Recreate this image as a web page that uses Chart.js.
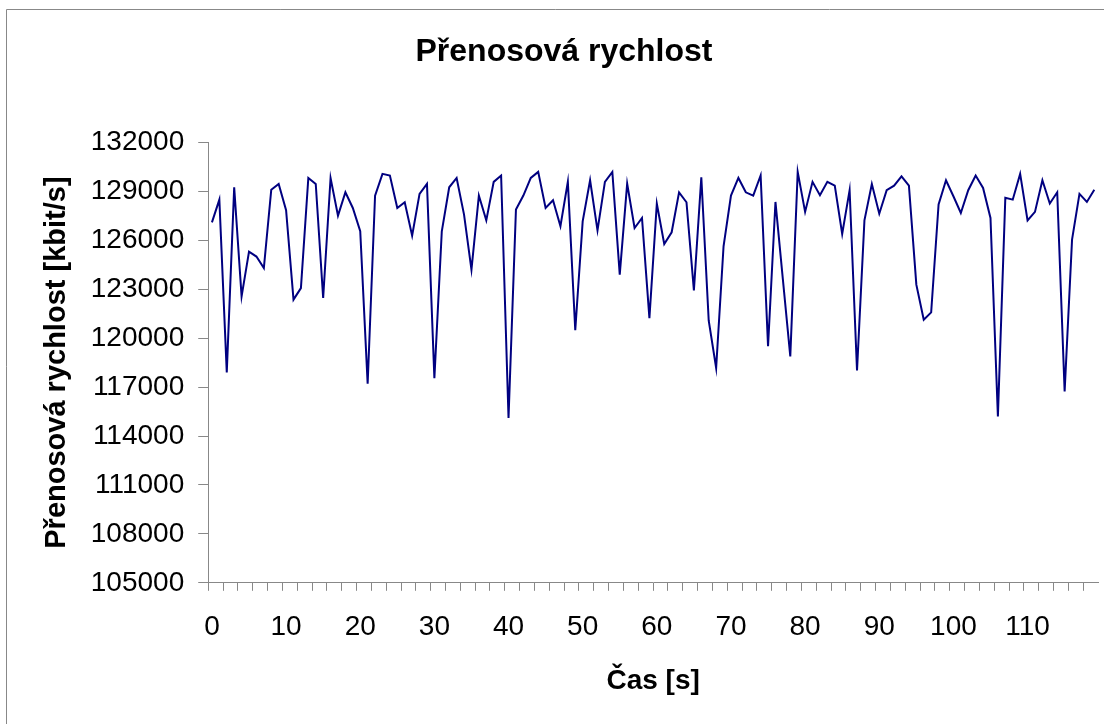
<!DOCTYPE html>
<html>
<head>
<meta charset="utf-8">
<title>Přenosová rychlost</title>
<script src="https://cdn.jsdelivr.net/npm/chart.js@4/dist/chart.umd.min.js"></script>
<style>
  html, body { margin: 0; padding: 0; background: #fff; }
  canvas { display: block; }
</style>
</head>
<body>
<canvas id="myChart" width="1104" height="724"></canvas>
<script>
// cas [s]
const casLabels = [0, 1, 2, 3, 4, 5, 6, 7, 8, 9, 10, 11, 12, 13, 14, 15, 16, 17, 18, 19,
    20, 21, 22, 23, 24, 25, 26, 27, 28, 29, 30, 31, 32, 33, 34, 35, 36, 37, 38, 39,
    40, 41, 42, 43, 44, 45, 46, 47, 48, 49, 50, 51, 52, 53, 54, 55, 56, 57, 58, 59,
    60, 61, 62, 63, 64, 65, 66, 67, 68, 69, 70, 71, 72, 73, 74, 75, 76, 77, 78, 79,
    80, 81, 82, 83, 84, 85, 86, 87, 88, 89, 90, 91, 92, 93, 94, 95, 96, 97, 98, 99,
    100, 101, 102, 103, 104, 105, 106, 107, 108, 109, 110, 111, 112, 113, 114, 115, 116, 117, 118, 119];

// prenosova rychlost [kbit/s]
const rychlost = [
    127100, 128490, 117900, 129250, 122560, 125300, 125000, 124300, 129100, 129450,
    127840, 122360, 123070, 129820, 129450, 122460, 129820, 127510, 128940, 127980,
    126550, 117200, 128740, 130070, 129970, 127980, 128330, 126280, 128840, 129450,
    117550, 126550, 129250, 129820, 127570, 124200, 128740, 127220, 129580, 129970,
    115100, 127880, 128740, 129820, 130190, 127980, 128450, 126860, 129580, 120480,
    127160, 129680, 126610, 129580, 130190, 123890, 129470, 126750, 127370, 121230,
    128250, 125770, 126490, 128940, 128330, 122930, 129860, 121070, 118170, 125630,
    128740, 129820, 128940, 128740, 129970, 119500, 128350, 123600, 118880, 130190,
    127740, 129580, 128760, 129580, 129350, 126390, 129070, 118020, 127220, 129450,
    127630, 129070, 129350, 129920, 129350, 123280, 121130, 121580, 128190, 129680,
    128700, 127670, 129070, 129970, 129210, 127370, 115200, 128600, 128490, 130070,
    127220, 127740, 129680, 128250, 128940, 116730, 126040, 128840, 128350, 129100
];

const yMin = 105000;
const yMax = 132000;
const yStep = 3000;

const seda = '#888888';
const font = 'Liberation Sans, Arial, sans-serif';

// ramecek grafu (jen levy a horni okraj je videt)
const ramecek = {
    id: 'ramecek',
    beforeDraw(chart) {
        const c = chart.ctx;
        c.save();
        c.fillStyle = '#fff';
        c.fillRect(0, 0, chart.width, chart.height);
        c.strokeStyle = seda;
        c.lineWidth = 1;
        c.beginPath();
        c.moveTo(6.5, chart.height);
        c.lineTo(6.5, 9.5);
        c.lineTo(chart.width, 9.5);
        c.stroke();
        c.restore();
    }
};

const ctx = document.getElementById('myChart');
new Chart(ctx, {
    type: 'line',
    data: {
        labels: casLabels,
        datasets: [{
            label: 'Přenosová rychlost',
            data: rychlost,
            borderColor: '#000080',
            borderWidth: 2,
            pointRadius: 0,
            tension: 0,
            fill: false
        }]
    },
    options: {
        responsive: false,
        animation: false,
        layout: {
            padding: { left: 30, right: 6, top: 0, bottom: 0 }
        },
        plugins: {
            legend: { display: false },
            tooltip: { enabled: false },
            title: {
                display: true,
                text: 'Přenosová rychlost',
                color: '#000',
                font: { family: font, size: 32, weight: 'bold' },
                padding: { top: 33, bottom: 71 }
            }
        },
        scales: {
            x: {
                type: 'category',
                offset: true,
                afterFit: (scale) => { scale.paddingRight = 0; },
                border: { display: true, color: seda, width: 1 },
                grid: {
                    offset: true,
                    drawOnChartArea: false,
                    drawTicks: true,
                    tickLength: 8,
                    color: (c) => (c.index % 2 === 0 ? seda : 'rgba(0,0,0,0)')
                },
                ticks: {
                    autoSkip: false,
                    maxRotation: 0,
                    minRotation: 0,
                    padding: 20,
                    color: '#000',
                    font: { family: font, size: 28 },
                    callback: (val, idx) => (idx % 10 === 0 ? String(casLabels[idx]) : '')
                },
                title: {
                    display: true,
                    text: 'Čas [s]',
                    color: '#000',
                    font: { family: font, size: 28, weight: 'bold' },
                    padding: { top: 0, bottom: 26 }
                }
            },
            y: {
                min: yMin,
                max: yMax,
                border: { display: true, color: seda, width: 1 },
                grid: {
                    drawOnChartArea: false,
                    drawTicks: true,
                    tickLength: 10,
                    color: seda
                },
                ticks: {
                    stepSize: yStep,
                    padding: 14,
                    color: '#000',
                    font: { family: font, size: 28 },
                    callback: (val) => String(val)
                },
                title: {
                    display: true,
                    text: 'Přenosová rychlost [kbit/s]',
                    color: '#000',
                    font: { family: font, size: 29, weight: 'bold' },
                    padding: { top: 10, bottom: 2 }
                }
            }
        }
    },
    plugins: [ramecek]
});
</script>
</body>
</html>
